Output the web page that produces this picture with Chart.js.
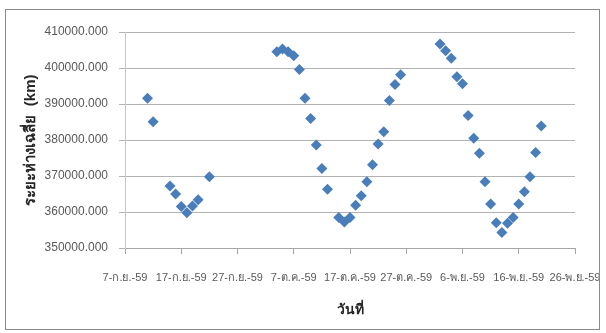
<!DOCTYPE html>
<html>
<head>
<meta charset="utf-8">
<script src="https://cdn.jsdelivr.net/npm/chart.js@4.4.1/dist/chart.umd.min.js"></script>
<style>
  html, body { margin: 0; padding: 0; background: #ffffff; }
  #wrap { position: relative; width: 606px; height: 333px; }
  #frame { position: absolute; left: 5px; top: 9px; width: 595px; height: 321px;
           border: 1px solid #8a8a8a; box-sizing: border-box; pointer-events: none; }
  canvas { position: absolute; left: 0; top: 0; }
</style>
</head>
<body>
<div id="wrap">
  <canvas id="c" width="606" height="333"></canvas>
  <div id="frame"></div>
</div>
<script>
// Observation dates (2016) and mean Earth–Moon distance in km
const startDate = '2016-09-07';
const dates = [
  '2016-09-11', '2016-09-12', '2016-09-15', '2016-09-16', '2016-09-17', '2016-09-18',
  '2016-09-19', '2016-09-20', '2016-09-22',
  '2016-10-04', '2016-10-05', '2016-10-06', '2016-10-07', '2016-10-08', '2016-10-09',
  '2016-10-10', '2016-10-11', '2016-10-12', '2016-10-13',
  '2016-10-15', '2016-10-16', '2016-10-17', '2016-10-18', '2016-10-19', '2016-10-20',
  '2016-10-21', '2016-10-22', '2016-10-23', '2016-10-24', '2016-10-25', '2016-10-26',
  '2016-11-02', '2016-11-03', '2016-11-04', '2016-11-05', '2016-11-06', '2016-11-07',
  '2016-11-08', '2016-11-09', '2016-11-10', '2016-11-11', '2016-11-12', '2016-11-13',
  '2016-11-14', '2016-11-15', '2016-11-16', '2016-11-17', '2016-11-18', '2016-11-19',
  '2016-11-20'
];
const distances = [
  391600, 385100, 367200, 365000, 361500, 359800,
  361700, 363400, 369800,
  404500, 405300, 404500, 403400, 399600, 391600,
  386000, 378600, 372100, 366300,
  358500, 357200, 358500, 361900, 364500, 368400,
  373100, 378900, 382300, 391000, 395400, 398100,
  406700, 404800, 402700, 397600, 395600, 386800,
  380500, 376300, 368400, 362200, 357000, 354300,
  356900, 358500, 362200, 365600, 369800, 376500,
  383900
];
// Date-axis labels every 10 days (Thai Buddhist-era short form)
const dateTickLabels = [
  '7-ก.ย.-59', '17-ก.ย.-59', '27-ก.ย.-59', '7-ต.ค.-59', '17-ต.ค.-59',
  '27-ต.ค.-59', '6-พ.ย.-59', '16-พ.ย.-59', '26-พ.ย.-59'
];
const tickStepDays = 10;
const yMin = 350000, yMax = 410000, yStep = 10000;
const xTitle = 'วันที่';
const yTitle = 'ระยะห่างเฉลี่ย  (km)';

const DAY = 86400000;
const dayIndex = s => Math.round((Date.parse(s + 'T00:00:00Z') - Date.parse(startDate + 'T00:00:00Z')) / DAY);
const points = dates.map((d, i) => ({ x: dayIndex(d), y: distances[i] }));
const xMax = (dateTickLabels.length - 1) * tickStepDays;

const baseFont = "'Liberation Sans', 'Noto Sans', 'DejaVu Sans', sans-serif";

new Chart(document.getElementById('c'), {
  type: 'scatter',
  data: {
    datasets: [{
      data: points,
      pointStyle: 'rectRot',
      pointRadius: 5.5,
      pointHoverRadius: 5.5,
      pointBorderWidth: 0,
      backgroundColor: '#4a7ebb',
      borderColor: '#4a7ebb'
    }]
  },
  options: {
    responsive: false,
    animation: false,
    events: [],
    layout: { padding: { left: 0, top: 32, right: 31, bottom: 0 } },
    plugins: { legend: { display: false }, tooltip: { enabled: false } },
    scales: {
      x: {
        type: 'linear',
        min: 0,
        max: xMax,
        afterFit: s => { s.height = 85; s.paddingLeft = 0; s.paddingRight = 0; },
        afterBuildTicks: s => {
          s.ticks = dateTickLabels.map((_, i) => ({ value: i * tickStepDays }));
        },
        ticks: {
          autoSkip: false,
          maxRotation: 0,
          padding: 17,
          color: '#595959',
          font: { family: baseFont, size: 11 },
          callback: (v, i) => dateTickLabels[i]
        },
        grid: { drawOnChartArea: false, drawTicks: true, tickLength: 6, color: '#a6a6a6' },
        border: { display: true, color: '#a6a6a6' },
        title: {
          display: true,
          text: xTitle,
          color: '#262626',
          font: { family: baseFont, size: 14, weight: 'bold' },
          padding: { top: 0, bottom: 14 }
        }
      },
      y: {
        min: yMin,
        max: yMax,
        afterFit: s => { s.width = 125; },
        ticks: {
          stepSize: yStep,
          padding: 11,
          color: '#595959',
          font: { family: baseFont, size: 12 },
          callback: v => Number(v).toFixed(3)
        },
        grid: { color: '#b3b3b3', tickLength: 6, drawTicks: true },
        border: { display: true, color: '#c8c8c8' },
        title: {
          display: true,
          text: yTitle,
          color: '#262626',
          font: { family: baseFont, size: 15, weight: 'bold' },
          padding: { top: 22, bottom: 0 }
        }
      }
    }
  }
});
</script>
</body>
</html>
